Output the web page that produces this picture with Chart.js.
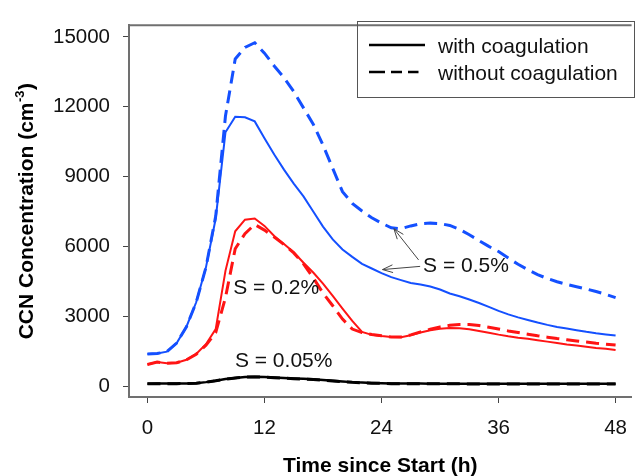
<!DOCTYPE html>
<html><head><meta charset="utf-8">
<script src="https://cdn.jsdelivr.net/npm/chart.js@4.4.1/dist/chart.umd.min.js"></script>
<style>html,body{margin:0;padding:0;background:#fff;overflow:hidden}#wrap{width:640px;height:476px;position:relative}</style>
</head><body><div id="wrap"><canvas id="c"></canvas></div>
<script>
// ---- data ----
const hours = [0,1,2,3,4,5,6,7,8,9,10,11,12,13,14,15,16,17,18,19,20,21,22,23,24,25,26,27,28,29,30,31,32,33,34,35,36,37,38,39,40,41,42,43,44,45,46,47,48];
const blueWith = [1380,1400,1480,1850,2550,3600,5100,7200,10900,11570,11550,11370,10650,9950,9300,8700,8150,7500,6850,6300,5870,5550,5250,5050,4850,4680,4550,4430,4360,4280,4150,3980,3860,3720,3570,3400,3230,3080,2950,2840,2730,2630,2540,2470,2400,2330,2270,2220,2170];
const blueWithout = [1380,1400,1480,1850,2550,3600,5100,7300,11600,14050,14550,14750,14300,13750,13250,12650,11950,11250,10350,9350,8350,7850,7520,7230,7000,6800,6760,6880,6970,7000,6980,6900,6730,6500,6250,6000,5780,5500,5230,5000,4790,4620,4480,4370,4270,4170,4060,3940,3800];
const redWith = [930,1030,980,1000,1130,1380,1800,2450,4950,6650,7150,7200,6880,6450,6100,5750,5300,4880,4400,3870,3330,2800,2330,2200,2150,2110,2100,2180,2300,2400,2460,2490,2480,2440,2370,2290,2210,2140,2080,2030,1970,1910,1850,1790,1740,1690,1640,1600,1550];
const redWithout = [930,1030,980,1000,1130,1370,1750,2300,3800,5900,6550,6940,6700,6400,6080,5720,5250,4650,4000,3450,2880,2450,2300,2220,2160,2110,2110,2200,2330,2440,2540,2610,2650,2650,2600,2530,2450,2370,2300,2230,2160,2100,2040,1990,1940,1890,1840,1800,1760];
const blackWith = [100,110,110,110,115,125,170,230,300,350,390,400,390,370,350,330,310,290,260,230,200,170,150,135,125,115,110,108,106,105,105,105,105,104,104,103,103,103,102,102,102,101,101,101,100,100,100,100,100];
const blackWithout = [95,105,105,105,110,120,165,225,295,345,385,395,385,362,340,318,298,278,248,218,190,160,140,125,115,105,100,98,96,95,95,95,95,94,94,93,93,93,92,92,92,91,91,91,90,90,90,90,90];
const xTicks = [0,12,24,36,48];
const yTicks = [0,3000,6000,9000,12000,15000];
const legendLabels = ['with coagulation','without coagulation'];
const xTitle = 'Time since Start (h)';
const yTitleMain = 'CCN Concentration (cm';
const yTitleSup = '-3';
const yTitleEnd = ')';
const notes = [
  {text:'S = 0.5%', x:28.26, y:5150},
  {text:'S = 0.2%', x:8.8, y:4217},
  {text:'S = 0.05%', x:8.97, y:1066}
];
const arrows = [
  {from:[27.8,5420], to:[25.27,6760]},
  {from:[27.96,5142], to:[24.1,5005]}
];

const FONT = '"Liberation Sans", Arial, Helvetica, sans-serif';
const BLUE = '#1450ff', RED = '#ff1414', BLACK = '#000000';
const DASH = [13,7];

function pts(arr){ return arr.map((v,i)=>({x:hours[i], y:v})); }
function ds(label, arr, color, dashed, w){
  return {label, data:pts(arr), borderColor:color, backgroundColor:color,
    borderWidth:w, borderDash: dashed?DASH:[], pointRadius:0, tension:0, fill:false};
}

const deco = {
  id:'deco',
  afterDraw(chart){
    const ctx = chart.ctx, a = chart.chartArea, xs = chart.scales.x, ys = chart.scales.y;
    ctx.save();
    // top frame line
    ctx.strokeStyle = '#707070'; ctx.lineWidth = 2; ctx.setLineDash([]);
    ctx.beginPath(); ctx.moveTo(a.left-1, a.top); ctx.lineTo(a.right, a.top); ctx.stroke();

    // legend
    ctx.strokeStyle = '#555'; ctx.lineWidth = 1;
    ctx.strokeRect(357.5, 21.5, 277, 76);
    ctx.strokeStyle = '#000'; ctx.lineWidth = 2.5;
    ctx.beginPath(); ctx.moveTo(369, 45); ctx.lineTo(425, 45); ctx.stroke();
    ctx.setLineDash([16,6,11,6,11,10]);
    ctx.beginPath(); ctx.moveTo(369, 72); ctx.lineTo(418.5, 72); ctx.stroke();
    ctx.setLineDash([]);
    ctx.fillStyle = '#111'; ctx.font = '21px ' + FONT; ctx.textAlign = 'left'; ctx.textBaseline = 'alphabetic';
    ctx.fillText(legendLabels[0], 438, 53);
    ctx.fillText(legendLabels[1], 438, 80);

    // annotations
    ctx.textBaseline = 'middle';
    notes.forEach(n => {
      ctx.fillText(n.text, xs.getPixelForValue(n.x), ys.getPixelForValue(n.y));
    });
    // arrows
    ctx.strokeStyle = '#444'; ctx.lineWidth = 1;
    arrows.forEach(ar => {
      const x1 = xs.getPixelForValue(ar.from[0]), y1 = ys.getPixelForValue(ar.from[1]);
      const x2 = xs.getPixelForValue(ar.to[0]), y2 = ys.getPixelForValue(ar.to[1]);
      const ang = Math.atan2(y2-y1, x2-x1), L = 11, sp = 0.36;
      ctx.beginPath(); ctx.moveTo(x1,y1); ctx.lineTo(x2,y2);
      ctx.moveTo(x2 - L*Math.cos(ang-sp), y2 - L*Math.sin(ang-sp)); ctx.lineTo(x2,y2);
      ctx.lineTo(x2 - L*Math.cos(ang+sp), y2 - L*Math.sin(ang+sp));
      ctx.stroke();
    });

    // x title
    ctx.fillStyle = '#000'; ctx.font = 'bold 21px ' + FONT; ctx.textAlign = 'center'; ctx.textBaseline = 'alphabetic';
    ctx.fillText(xTitle, (a.left + a.right)/2, 472);

    // y title (rotated, with superscript)
    const cy = (a.top + a.bottom)/2;
    ctx.font = 'bold 21px ' + FONT;
    const w1 = ctx.measureText(yTitleMain).width, w3 = ctx.measureText(yTitleEnd).width;
    ctx.font = 'bold 13px ' + FONT;
    const w2 = ctx.measureText(yTitleSup).width;
    const tot = w1 + w2 + w3 + 1;
    ctx.translate(33, cy); ctx.rotate(-Math.PI/2);
    ctx.textAlign = 'left';
    let px = -tot/2;
    ctx.font = 'bold 21px ' + FONT; ctx.fillText(yTitleMain, px, 0); px += w1 + 0.5;
    ctx.font = 'bold 13px ' + FONT; ctx.fillText(yTitleSup, px, -9); px += w2 + 0.5;
    ctx.font = 'bold 21px ' + FONT; ctx.fillText(yTitleEnd, px, 0);
    ctx.restore();
  }
};

new Chart(document.getElementById('c'), {
  type:'line',
  data:{ datasets:[
    ds('S=0.05% without', blackWithout, BLACK, true, 3),
    ds('S=0.05% with', blackWith, BLACK, false, 2.5),
    ds('S=0.2% without', redWithout, RED, true, 3),
    ds('S=0.2% with', redWith, RED, false, 2),
    ds('S=0.5% without', blueWithout, BLUE, true, 3),
    ds('S=0.5% with', blueWith, BLUE, false, 2)
  ]},
  options:{
    responsive:true, maintainAspectRatio:false, animation:false,
    layout:{padding:{top:12, right:0, left:0, bottom:0}},
    plugins:{legend:{display:false}, tooltip:{enabled:false}},
    scales:{
      x:{type:'linear', min:-1.89, max:49.64,
        afterBuildTicks: s => { s.ticks = xTicks.map(v => ({value:v})); },
        afterFit: s => { s.height = 79; },
        grid:{drawOnChartArea:false, drawTicks:true, tickLength:6, tickColor:'#444', tickWidth:1},
        border:{display:true, color:'#707070', width:2},
        ticks:{font:{family:FONT, size:20.5}, color:'#111', padding:13, maxRotation:0, autoSkip:false, callback:v=>String(v)}
      },
      y:{min:-469, max:15498,
        afterBuildTicks: s => { s.ticks = yTicks.map(v => ({value:v})); },
        afterFit: s => { s.width = 129; },
        grid:{drawOnChartArea:false, drawTicks:true, tickLength:6, tickColor:'#444', tickWidth:1},
        border:{display:true, color:'#707070', width:2},
        ticks:{font:{family:FONT, size:20.5}, color:'#111', padding:13, autoSkip:false, callback:v=>String(v)}
      }
    }
  },
  plugins:[deco]
});
</script></body></html>
